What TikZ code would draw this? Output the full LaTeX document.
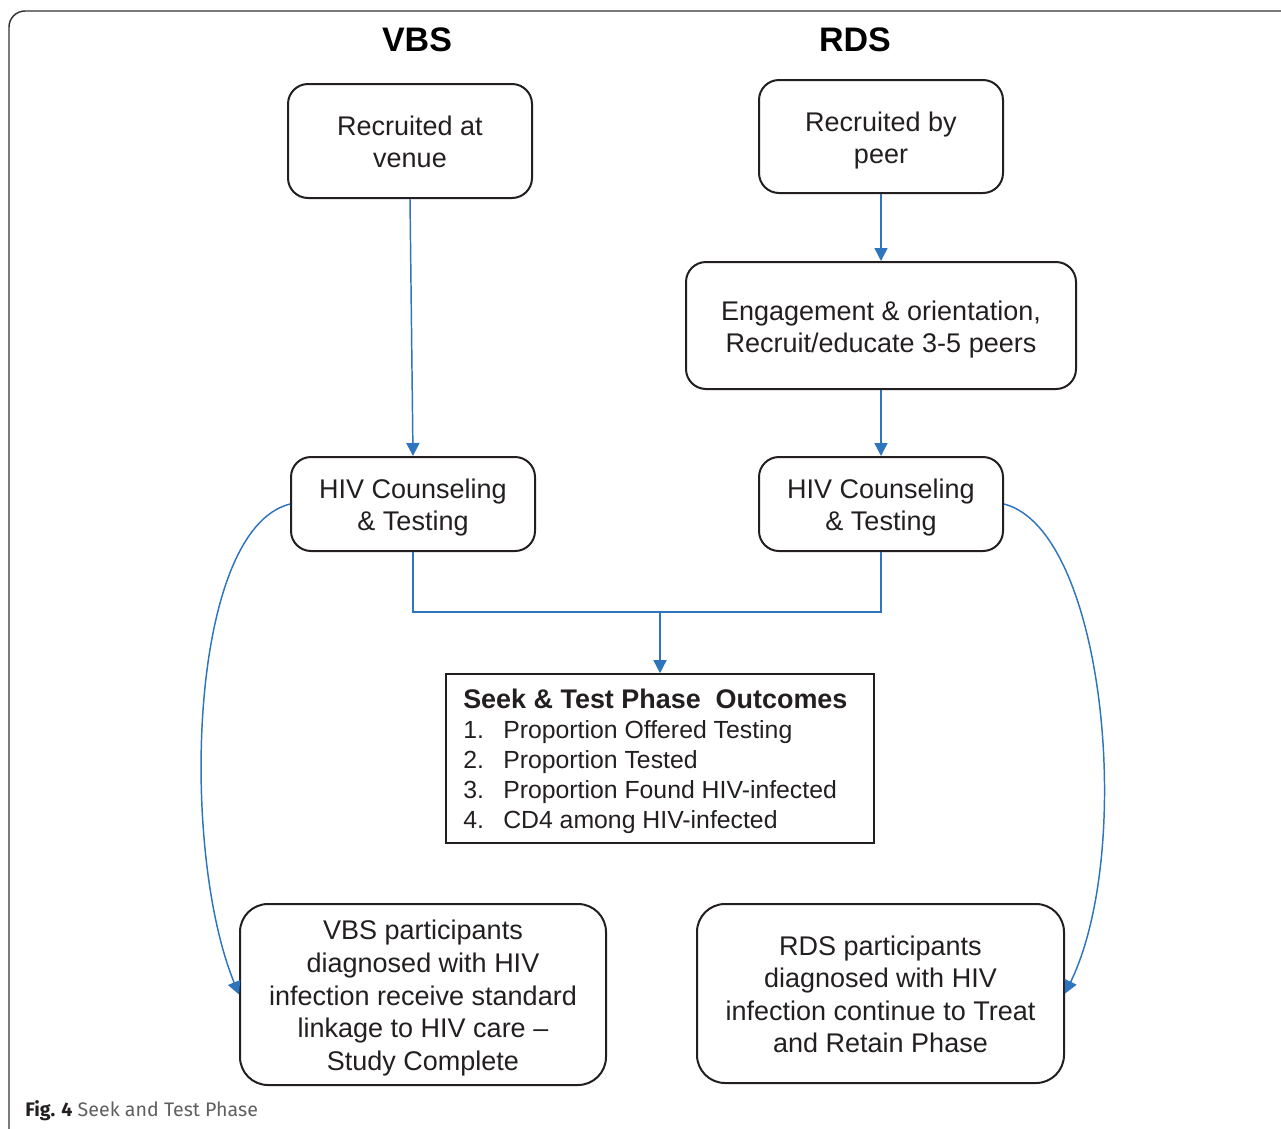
\documentclass[tikz,border=0pt]{standalone}
\usepackage{fontspec}
\setmainfont{Liberation Sans}
\newfontfamily\capfont{Fira Sans}
\usetikzlibrary{arrows.meta}
\definecolor{arr}{RGB}{46,117,190}
\definecolor{ink}{RGB}{35,31,32}
\definecolor{capgray}{RGB}{95,95,95}
\newcommand\topstrut{\rule{0pt}{20pt}}
\newcommand\botstrut{\rule[-4pt]{0pt}{4pt}}
\begin{document}
\begin{tikzpicture}[x=0.75pt,y=-0.75pt,
  rbox/.style={draw=ink,line width=1.5pt,rounded corners=15pt,inner sep=0pt,
    align=center,text=ink,font=\fontsize{20.25}{24}\selectfont},
  sbox/.style={draw=ink,line width=1.2pt,inner sep=0pt},
  conn/.style={draw=arr,line width=1.1pt},
  arrow/.style={conn,-{Triangle[length=9.75pt,width=9.75pt]}},
  ttl/.style={font=\bfseries\fontsize{25.5}{30}\selectfont,text=black}]
\useasboundingbox (0,0) rectangle (1281,1128);
\draw[line width=1.1pt,draw=black!80,rounded corners=12pt] (9,11) rectangle (1310,1150);

\node[ttl] (tv) at (417,40) {VBS};
\node[ttl] (tr) at (855,40) {RDS};

\node[rbox,minimum width=183pt,minimum height=85.5pt] (A) at (410,141) {\topstrut Recruited at\\venue\botstrut};
\node[rbox,minimum width=183pt,minimum height=84.75pt] (B) at (881,136.5) {\topstrut Recruited by\\peer\botstrut};
\node[rbox,minimum width=292.5pt,minimum height=95.25pt] (C) at (881,325.5) {\topstrut Engagement \& orientation,\\Recruit/educate 3-5 peers\botstrut};
\node[rbox,minimum width=183pt,minimum height=70.5pt] (D) at (413,504) {\topstrut HIV Counseling\\\& Testing\botstrut};
\node[rbox,minimum width=183pt,minimum height=70.5pt] (E) at (881,504) {\topstrut HIV Counseling\\\& Testing\botstrut};
\node[sbox,minimum width=321pt,minimum height=126.75pt] (O) at (660,758.5) {};
\node[anchor=west,inner sep=0pt,align=left,text=ink,font=\fontsize{18.6}{22.5}\selectfont] (Ot) at (463,761)
  {{\bfseries\fontsize{20.2}{23.5}\selectfont Seek \& Test Phase\ \ Outcomes}\\
   \makebox[30pt][l]{1.}Proportion Offered Testing\\
   \makebox[30pt][l]{2.}Proportion Tested\\
   \makebox[30pt][l]{3.}Proportion Found HIV-infected\\
   \makebox[30pt][l]{4.}CD4 among HIV-infected};
\node[rbox,font=\fontsize{20.25}{24.4}\selectfont,rounded corners=21pt,minimum width=274.5pt,minimum height=135.75pt] (F) at (423,994.5)
  {\topstrut VBS participants\\diagnosed with HIV\\infection receive standard\\linkage to HIV care –\\Study Complete\botstrut};
\node[rbox,font=\fontsize{20.25}{24.4}\selectfont,rounded corners=21pt,minimum width=275.25pt,minimum height=134.25pt] (G) at (880.5,993.5)
  {\topstrut RDS participants\\diagnosed with HIV\\infection continue to Treat\\and Retain Phase\botstrut};

\node[anchor=west,inner sep=0pt,font=\capfont\fontsize{14.7}{18}\selectfont] (cap) at (25,1111)
  {\textcolor{ink}{\bfseries Fig. 4} \textcolor{capgray}{Seek and Test Phase}};

\coordinate (j) at (660,612);
\draw[arrow] (A.south) -- (D.north);
\draw[arrow] (B.south) -- (C.north);
\draw[arrow] (C.south) -- (E.north);
\draw[conn] (D.south) |- (j) -| (E.south);
\draw[arrow] (j) -- (O.north);
\draw[arrow] (D.west) .. controls (188,530) and (180,850) .. (F.west);
\draw[arrow] (E.east) .. controls (1105,530) and (1135,850) .. (G.east);
\end{tikzpicture}
\end{document}
